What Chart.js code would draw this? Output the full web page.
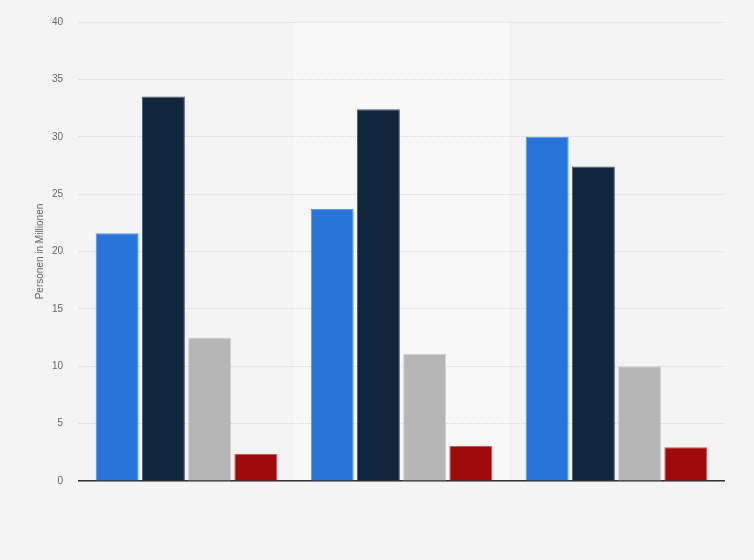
<!DOCTYPE html>
<html>
<head>
<meta charset="utf-8">
<script src="https://cdn.jsdelivr.net/npm/chart.js@4/dist/chart.umd.min.js"></script>
<style>
  html, body { margin: 0; padding: 0; background: #f4f4f4; }
  #wrap { width: 754px; height: 560px; position: relative; }
</style>
</head>
<body>
<div id="wrap"><canvas id="chart"></canvas></div>
<script>
// Data
const categories = ['', '', ''];
const seriesBlue = [21.6, 23.7, 30.0];
const seriesNavy = [33.5, 32.4, 27.4];
const seriesGray = [12.5, 11.1, 10.0];
const seriesRed = [2.35, 3.05, 2.95];
const yTicks = [0, 5, 10, 15, 20, 25, 30, 35, 40];

// light band behind the middle category
const bandPlugin = {
  id: 'band',
  beforeDraw(chart) {
    const { ctx, chartArea, scales } = chart;
    const x = scales.x;
    const w = x.width / categories.length;
    const cx = x.getPixelForValue(1);
    ctx.save();
    ctx.fillStyle = '#f8f8f8';
    ctx.fillRect(cx - w / 2, chartArea.top, w, chartArea.bottom - chartArea.top);
    ctx.restore();
  }
};

const bar = (data, color, border) => ({
  data,
  backgroundColor: color,
  borderColor: border,
  borderWidth: 1,
  categoryPercentage: 0.86,
  barPercentage: 0.93
});

new Chart(document.getElementById('chart'), {
  type: 'bar',
  data: {
    labels: categories,
    datasets: [
      bar(seriesBlue, '#2775d9', '#5b97e3'),
      bar(seriesNavy, '#10263d', '#4a5a6c'),
      bar(seriesGray, '#b6b6b6', '#d2d2d2'),
      bar(seriesRed, '#a10a0b', '#c55a5b')
    ]
  },
  options: {
    responsive: true,
    maintainAspectRatio: false,
    animation: false,
    layout: { padding: { left: 34, right: 30, top: 20, bottom: 0 } },
    plugins: {
      legend: { display: false },
      tooltip: { enabled: false }
    },
    scales: {
      x: {
        grid: { display: false },
        border: { color: '#333333', width: 1.5 },
        ticks: { display: false },
        afterFit(scale) { scale.height = 79; }
      },
      y: {
        min: 0,
        max: 40,
        afterBuildTicks(scale) { scale.ticks = yTicks.map(v => ({ value: v })); },
        grid: { color: '#d4d4d4', lineWidth: 1, tickLength: 0 },
        border: { display: false, dash: [1, 1] },
        ticks: {
          color: '#666666',
          padding: 16,
          font: { family: "'Liberation Sans', Arial, sans-serif", size: 10 }
        },
        title: {
          display: true,
          text: 'Personen in Millionen',
          color: '#666666',
          padding: { top: 0, bottom: 0 },
          font: { family: "'Liberation Sans', Arial, sans-serif", size: 10 }
        },
        afterFit(scale) { scale.width = 45; }
      }
    }
  },
  plugins: [bandPlugin]
});
</script>
</body>
</html>
